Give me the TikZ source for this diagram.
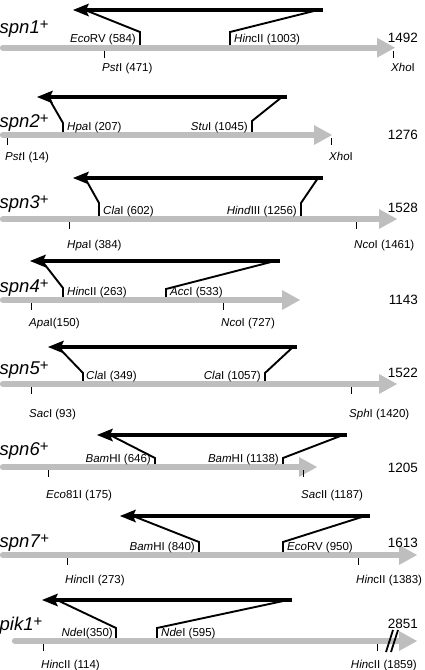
\documentclass[tikz,border=0pt]{standalone}
\usepackage{fontspec}
\setmainfont{Liberation Sans}
\usetikzlibrary{arrows.meta}
\definecolor{shaftgray}{RGB}{190,190,190}
\tikzset{
  grayarr/.style={draw=shaftgray, line width=6.3pt, line cap=round,
    -{Triangle[length=18pt,width=20pt,line width=0pt]}},
  blackarr/.style={draw=black, line width=4.5pt,
    -{Stealth[length=16pt,width=13pt,inset=3pt,line width=0pt]}},
  legline/.style={draw=black, line width=1.9pt, line join=miter},
  tickline/.style={draw=black, line width=0.7pt},
  breakline/.style={draw=black, line width=1.8pt},
  sitelabel/.style={font=\fontsize{11.5}{13}\selectfont, inner sep=0pt},
  genelabel/.style={font=\fontsize{18.5}{20}\selectfont, inner sep=0pt, anchor=base west},
  lenlabel/.style={font=\fontsize{13.5}{15}\selectfont, inner sep=0pt, anchor=base east},
}
\newcommand\dGene[3]{\node[genelabel] (#1) at (-0.5,#3) {\textit{#2}\raisebox{4pt}{\fontsize{15}{15}\selectfont+}};}
\newcommand\dLen[3]{\node[lenlabel] (#1) at (418,#3) {#2};}
\newcommand\dGray[3]{\coordinate (#1s) at (#2,0); \coordinate (#1e) at (#3,0);
  \draw[grayarr] (#1s) -- (#1e);}
\newcommand\dBar[4]{\coordinate (#1s) at (#4,#2); \coordinate (#1e) at (#3,#2);
  \draw[blackarr] (#1s) -- (#1e);}
\newcommand\dLeg[5]{\coordinate (#1a) at (#2,#3); \coordinate (#1b) at (#4,#5);
  \coordinate (#1c) at (#4,-2.5);
  \draw[legline] (#1a) -- (#1b) -- (#1c);}
\newcommand\dSite[4]{\node[sitelabel, anchor=#2] (#1) at (#3,-5) {#4};}
\newcommand\dTick[4]{\coordinate (#1a) at (#2,3); \coordinate (#1b) at (#2,10);
  \draw[tickline] (#1a) -- (#1b);
  \node[sitelabel, anchor=base west] (#1l) at (#2-2,#4) {#3};}
\begin{document}
\begin{tikzpicture}[x=1pt,y=-1pt]
\useasboundingbox (0,0) rectangle (425,670);
% ---- row 1 : spn1
\begin{scope}[shift={(0,47.7)}]
  \dLeg{aL}{85}{-37.7}{140}{-15.7}
  \dLeg{aR}{318}{-37.7}{230}{-15.7}
  \dBar{aB}{-37.7}{73}{323}
  \dGray{aG}{3}{395}
  \dGene{aN}{spn1}{-14.7}
  \dLen{aX}{1492}{-5}
  \dSite{aS1}{base east}{136}{\textit{Eco}RV (584)}
  \dSite{aS2}{base west}{234}{\textit{Hin}cII (1003)}
  \dTick{aT1}{104}{\textit{Pst}I (471)}{24}
  \dTick{aT2}{393}{\textit{Xho}I}{24}
\end{scope}
% ---- row 2 : spn2
\begin{scope}[shift={(0,135)}]
  \dLeg{bL}{48}{-38}{63}{-12}
  \dLeg{bR}{282}{-38}{252}{-14}
  \dBar{bB}{-38}{37}{287}
  \dGray{bG}{3}{332}
  \dGene{bN}{spn2}{-8}
  \dLen{bX}{1276}{4.5}
  \dSite{bS1}{base west}{67}{\textit{Hpa}I (207)}
  \dSite{bS2}{base east}{248}{\textit{Stu}I (1045)}
  \dTick{bT1}{7}{\textit{Pst}I (14)}{25}
  \dTick{bT2}{331}{\textit{Xho}I}{25}
\end{scope}
% ---- row 3 : spn3
\begin{scope}[shift={(0,219)}]
  \dLeg{cL}{85}{-41}{99}{-16}
  \dLeg{cR}{318}{-41}{301}{-16}
  \dBar{cB}{-41}{73}{323}
  \dGray{cG}{3}{397}
  \dGene{cN}{spn3}{-11}
  \dLen{cX}{1528}{-7}
  \dSite{cS1}{base west}{103}{\textit{Cla}I (602)}
  \dSite{cS2}{base east}{297}{\textit{Hind}III (1256)}
  \dTick{cT1}{69}{\textit{Hpa}I (384)}{29}
  \dTick{cT2}{356}{\textit{Nco}I (1461)}{29}
\end{scope}
% ---- row 4 : spn4
\begin{scope}[shift={(0,300)}]
  \dLeg{dL}{42}{-39}{63}{-12}
  \dLeg{dR}{275}{-39}{166}{-11}
  \dBar{dB}{-39}{30}{280}
  \dGray{dG}{3}{300}
  \dGene{dN}{spn4}{-8}
  \dLen{dX}{1143}{4.5}
  \dSite{dS1}{base west}{67}{\textit{Hin}cII (263)}
  \dSite{dS2}{base west}{170}{\textit{Acc}I (533)}
  \dTick{dT1}{31}{\textit{Apa}I(150)}{26}
  \dTick{dT2}{223}{\textit{Nco}I (727)}{26}
\end{scope}
% ---- row 5 : spn5
\begin{scope}[shift={(0,384)}]
  \dLeg{eL}{58}{-37}{83}{-11}
  \dLeg{eR}{293}{-37}{265}{-11}
  \dBar{eB}{-37}{48}{297}
  \dGray{eG}{3}{397}
  \dGene{eN}{spn5}{-10}
  \dLen{eX}{1522}{-7}
  \dSite{eS1}{base west}{86}{\textit{Cla}I (349)}
  \dSite{eS2}{base east}{261}{\textit{Cla}I (1057)}
  \dTick{eT1}{31}{\textit{Sac}I (93)}{33}
  \dTick{eT2}{351}{\textit{Sph}I (1420)}{33}
\end{scope}
% ---- row 6 : spn6
\begin{scope}[shift={(0,467)}]
  \dLeg{fL}{110}{-32}{155}{-9}
  \dLeg{fR}{343}{-32}{283}{-9}
  \dBar{fB}{-32}{97}{347}
  \dGray{fG}{3}{317}
  \dGene{fN}{spn6}{-12}
  \dLen{fX}{1205}{5}
  \dSite{fS1}{base east}{151}{\textit{Bam}HI (646)}
  \dSite{fS2}{base east}{279}{\textit{Bam}HI (1138)}
  \dTick{fT1}{48}{\textit{Eco}81I (175)}{31}
  \dTick{fT2}{303}{\textit{Sac}II (1187)}{31}
\end{scope}
% ---- row 7 : spn7
\begin{scope}[shift={(0,555)}]
  \dLeg{gL}{133}{-39}{199}{-13}
  \dLeg{gR}{365}{-39}{283}{-13}
  \dBar{gB}{-39}{120}{370}
  \dGray{gG}{3}{417}
  \dGene{gN}{spn7}{-8}
  \dLen{gX}{1613}{-8}
  \dSite{gS1}{base east}{195}{\textit{Bam}HI (840)}
  \dSite{gS2}{base west}{287}{\textit{Eco}RV (950)}
  \dTick{gT1}{67}{\textit{Hin}cII (273)}{28}
  \dTick{gT2}{358}{\textit{Hin}cII (1383)}{28}
\end{scope}
% ---- row 8 : pik1
\begin{scope}[shift={(0,641)}]
  \dLeg{hL}{57}{-41}{116}{-13}
  \dLeg{hR}{288}{-41}{157}{-13}
  \dBar{hB}{-41}{42}{292}
  \dGray{hG}{15}{417}
  \coordinate (hK1a) at (386,11); \coordinate (hK1b) at (393,-11);
  \coordinate (hK2a) at (391,11); \coordinate (hK2b) at (398,-11);
  \draw[breakline] (hK1a) -- (hK1b);
  \draw[breakline] (hK2a) -- (hK2b);
  \dGene{hN}{pik1}{-11}
  \dLen{hX}{2851}{-13}
  \dSite{hS1}{base east}{113}{\textit{Nde}I(350)}
  \dSite{hS2}{base west}{161}{\textit{Nde}I (595)}
  \dTick{hT1}{43}{\textit{Hin}cII (114)}{27}
  \coordinate (hT2a) at (377,3); \coordinate (hT2b) at (377,10);
  \draw[tickline] (hT2a) -- (hT2b);
  \node[sitelabel, anchor=base east] (hT2l) at (417,27) {\textit{Hin}cII (1859)};
\end{scope}
\end{tikzpicture}
\end{document}
